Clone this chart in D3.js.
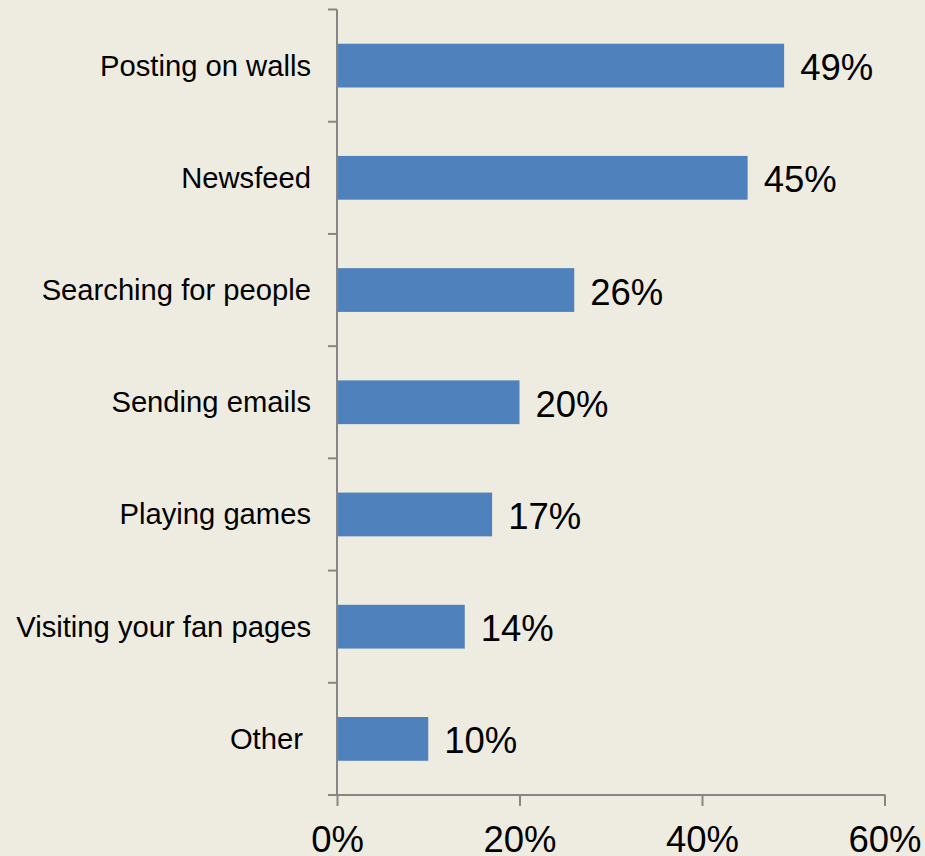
<!DOCTYPE html>
<html>
<head>
<meta charset="utf-8">
<script src="https://cdn.jsdelivr.net/npm/d3@7"></script>
<style>
  html, body { margin: 0; padding: 0; background: #EEECE1; }
  svg { display: block; }
  text { font-family: "Liberation Sans", Arial, sans-serif; fill: #000; }
</style>
</head>
<body>
<svg id="chart" width="925" height="856"></svg>
<script>
// Share of users doing each activity
const categories = [
  "Posting on walls",
  "Newsfeed",
  "Searching for people",
  "Sending emails",
  "Playing games",
  "Visiting your fan pages",
  "Other "
];
const values = [49, 45, 26, 20, 17, 14, 10];
const xTicks = [0, 20, 40, 60];

const svg = d3.select("#chart");
const W = 925, H = 856;
svg.append("rect").attr("width", W).attr("height", H).attr("fill", "#EEECE1");

const plotLeft = 337, plotRight = 884.5, plotTop = 9.5, plotBottom = 795;

const x = d3.scaleLinear().domain([0, 60]).range([plotLeft, plotRight]);
const y = d3.scaleBand().domain(categories).range([plotTop, plotBottom])
  .paddingInner(0.61).paddingOuter(0.305);

const data = categories.map((c, i) => ({ c, v: values[i] }));

const axisColor = "#868686";

// Bars
svg.append("g").selectAll("rect").data(data).join("rect")
  .attr("x", x(0))
  .attr("y", d => y(d.c))
  .attr("width", d => x(d.v) - x(0))
  .attr("height", y.bandwidth())
  .attr("fill", "#4F81BD");

// Value labels
svg.append("g").selectAll("text").data(data).join("text")
  .attr("x", d => x(d.v) + 16)
  .attr("y", d => y(d.c) + y.bandwidth() / 2 + 14.5)
  .attr("font-size", 36.5)
  .text(d => d.v + "%");

// Category axis (ticks between bands)
const yAxisG = svg.append("g");
yAxisG.append("line")
  .attr("x1", plotLeft).attr("x2", plotLeft)
  .attr("y1", plotTop).attr("y2", plotBottom)
  .attr("stroke", axisColor).attr("stroke-width", 2);
const bounds = categories.map(c => y(c) - y.step() * y.paddingInner() / 2);
bounds.push(plotBottom);
yAxisG.selectAll("line.tick").data(bounds).join("line")
  .attr("class", "tick")
  .attr("x1", plotLeft - 9).attr("x2", plotLeft)
  .attr("y1", d => d).attr("y2", d => d)
  .attr("stroke", axisColor).attr("stroke-width", 2);

// Category labels
svg.append("g").selectAll("text").data(data).join("text")
  .attr("x", 311)
  .attr("y", d => y(d.c) + y.bandwidth() / 2 + 10)
  .attr("text-anchor", "end")
  .attr("font-size", 29.2)
  .style("white-space", "pre")
  .text(d => d.c);

// Value axis
const xAxis = d3.axisBottom(x)
  .tickValues(xTicks)
  .tickSize(11)
  .tickSizeOuter(0)
  .tickFormat(d => d + "%");
const xg = svg.append("g").attr("transform", `translate(0,${plotBottom})`).call(xAxis);
xg.select(".domain").attr("stroke", axisColor).attr("stroke-width", 2)
  .attr("d", `M${plotLeft - 1},0H${plotRight + 1}`);
xg.selectAll(".tick line").attr("stroke", axisColor).attr("stroke-width", 2);
xg.selectAll(".tick text")
  .attr("font-size", 36.5)
  .attr("font-family", "Liberation Sans, Arial, sans-serif")
  .attr("fill", "#000")
  .attr("dy", null)
  .attr("y", 57);
</script>
</body>
</html>
